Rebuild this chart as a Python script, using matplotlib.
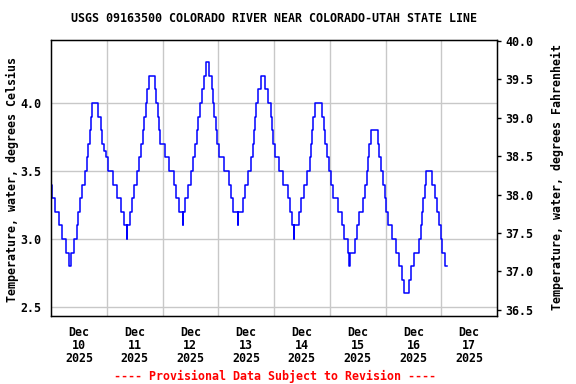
import numpy as np
import pandas as pd
import matplotlib
matplotlib.use("Agg")
import matplotlib.pyplot as plt
import matplotlib.dates as mdates
from matplotlib.ticker import FixedLocator, FormatStrFormatter

# Station / labels
title = "USGS 09163500 COLORADO RIVER NEAR COLORADO-UTAH STATE LINE"
ylabel_c = "Temperature, water, degrees Celsius"
ylabel_f = "Temperature, water, degrees Fahrenheit"
note = "---- Provisional Data Subject to Revision ----"

# Water temperature, read off the graph as step changes
# hours after 2025-12-10 00:00 and the value (deg C) from that time on
hours = [0.0, 0.3, 1.7, 3.4, 4.7, 6.4, 7.9, 8.6, 9.9, 11.1,
         11.7, 12.4, 13.3, 14.6, 15.4, 16.0, 16.6, 17.1, 17.6, 20.4,
         21.4, 22.1, 22.9, 23.6, 24.7, 26.7, 28.3, 30.0, 31.4, 32.6,
         32.9, 34.0, 35.0, 35.7, 37.0, 37.7, 38.7, 39.4, 40.1, 40.7,
         41.3, 42.0, 44.7, 45.3, 45.9, 46.4, 47.0, 48.9, 50.7, 52.9,
         53.9, 54.9, 56.7, 56.9, 57.7, 59.1, 60.1, 61.0, 62.0, 62.9,
         63.4, 64.0, 65.1, 65.9, 66.9, 68.1, 69.3, 69.7, 70.3, 70.9,
         71.6, 72.4, 74.6, 76.7, 77.6, 78.4, 80.6, 80.7, 82.7, 83.6,
         84.6, 86.0, 87.0, 87.4, 88.0, 88.4, 89.3, 90.3, 92.1, 93.6,
         94.6, 95.0, 95.4, 96.3, 98.3, 100.0, 101.9, 102.9, 103.6, 104.6,
         104.7, 106.7, 107.7, 108.7, 110.4, 111.4, 111.9, 112.4, 113.0, 113.7,
         116.6, 117.7, 118.1, 118.7, 119.6, 120.4, 121.6, 123.7, 125.1, 126.1,
         127.7, 128.4, 128.7, 130.9, 131.6, 132.6, 134.4, 135.3, 135.9, 136.3,
         136.9, 137.9, 140.6, 141.4, 142.1, 142.9, 143.6, 144.1, 145.0, 146.7,
         148.4, 149.6, 151.0, 152.0, 154.0, 154.9, 156.1, 158.4, 159.3, 159.7,
         160.3, 160.9, 161.4, 164.1, 165.1, 166.3, 167.0, 167.7, 168.4, 169.6,
         170.6]
temp_c = [3.4, 3.3, 3.2, 3.1, 3.0, 2.9, 2.8, 2.9, 3.0, 3.1,
          3.2, 3.3, 3.4, 3.5, 3.6, 3.7, 3.8, 3.9, 4.0, 3.9,
          3.8, 3.7, 3.65, 3.6, 3.5, 3.4, 3.3, 3.2, 3.1, 3.0,
          3.1, 3.2, 3.3, 3.4, 3.5, 3.6, 3.7, 3.8, 3.9, 4.0,
          4.1, 4.2, 4.1, 4.0, 3.9, 3.8, 3.7, 3.6, 3.5, 3.4,
          3.3, 3.2, 3.1, 3.2, 3.3, 3.4, 3.5, 3.6, 3.7, 3.8,
          3.9, 4.0, 4.1, 4.2, 4.3, 4.2, 4.1, 4.0, 3.9, 3.8,
          3.7, 3.6, 3.5, 3.4, 3.3, 3.2, 3.1, 3.2, 3.3, 3.4,
          3.5, 3.6, 3.7, 3.8, 3.9, 4.0, 4.1, 4.2, 4.1, 4.0,
          3.9, 3.8, 3.7, 3.6, 3.5, 3.4, 3.3, 3.2, 3.1, 3.0,
          3.1, 3.2, 3.3, 3.4, 3.5, 3.6, 3.7, 3.8, 3.9, 4.0,
          3.9, 3.8, 3.7, 3.6, 3.5, 3.4, 3.3, 3.2, 3.1, 3.0,
          2.9, 2.8, 2.9, 3.0, 3.1, 3.2, 3.3, 3.4, 3.5, 3.6,
          3.7, 3.8, 3.7, 3.6, 3.5, 3.4, 3.3, 3.2, 3.1, 3.0,
          2.9, 2.8, 2.7, 2.6, 2.7, 2.8, 2.9, 3.0, 3.1, 3.2,
          3.3, 3.4, 3.5, 3.4, 3.3, 3.2, 3.1, 3.0, 2.9, 2.8,
          2.8]

start = pd.Timestamp("2025-12-10 00:00")
end = pd.Timestamp("2025-12-18 00:00")
days = pd.date_range("2025-12-10", "2025-12-17", freq="D")
ytick_c = [2.5, 3.0, 3.5, 4.0]
ytick_f = [36.5, 37.0, 37.5, 38.0, 38.5, 39.0, 39.5, 40.0]
ylim_c = (2.434, 4.463)
ylim_f = (36.42, 40.013)  # right scale as drawn on the original

t = start + pd.to_timedelta(hours, unit="h")

plt.rcParams['font.family'] = 'DejaVu Sans Mono'
plt.rcParams['font.weight'] = 'bold'
fs = 8.4

fig = plt.figure(figsize=(5.76, 3.84), dpi=100)
ax = fig.add_axes([51/576, 1 - 316/384, 446/576, 276/384])

ax.plot(t, temp_c, color='#0000ff', linewidth=1.1, drawstyle='steps-post')

ax.set_xlim(start, end)
ax.set_ylim(*ylim_c)

# gridlines at midnight, day labels centred at noon
ax.xaxis.set_major_locator(FixedLocator(mdates.date2num(days[1:])))
ax.xaxis.set_major_formatter(plt.NullFormatter())
ax.xaxis.set_minor_locator(FixedLocator(mdates.date2num(days + pd.Timedelta(hours=12))))
ax.xaxis.set_minor_formatter(plt.FixedFormatter(
    ["{}\n{}\n{}".format(d.strftime("%b"), d.day, d.year) for d in days]))
ax.tick_params(axis='x', which='both', length=0)
ax.tick_params(axis='x', which='minor', pad=7, labelsize=fs)
for lbl in ax.xaxis.get_minorticklabels():
    lbl.set_linespacing(1.02)

ax.yaxis.set_major_locator(FixedLocator(ytick_c))
ax.yaxis.set_major_formatter(FormatStrFormatter('%.1f'))
ax.tick_params(axis='y', length=0, pad=7, labelsize=fs)

ax.grid(True, which='major', color='#c8c8c8', linewidth=1.0)
ax.set_axisbelow(True)
for s in ax.spines.values():
    s.set_linewidth(1.0)

axf = ax.twinx()
axf.set_ylim(*ylim_f)
axf.yaxis.set_major_locator(FixedLocator(ytick_f))
axf.yaxis.set_major_formatter(FormatStrFormatter('%.1f'))
axf.tick_params(axis='y', length=3, width=1, pad=3, labelsize=fs)

fig.text(274/576, 1 - 19/384, title, ha='center', va='center', fontsize=fs)
fig.text(12/576, 1 - 180/384, ylabel_c, rotation=90, ha='center', va='center',
         fontsize=fs)
fig.text(557/576, 1 - 177/384, ylabel_f, rotation=90, ha='center', va='center',
         fontsize=fs)
fig.text(275/576, 1 - 376/384, note, ha='center', va='center', fontsize=fs,
         color='#ff0000')

fig.savefig("out.png", dpi=100)
